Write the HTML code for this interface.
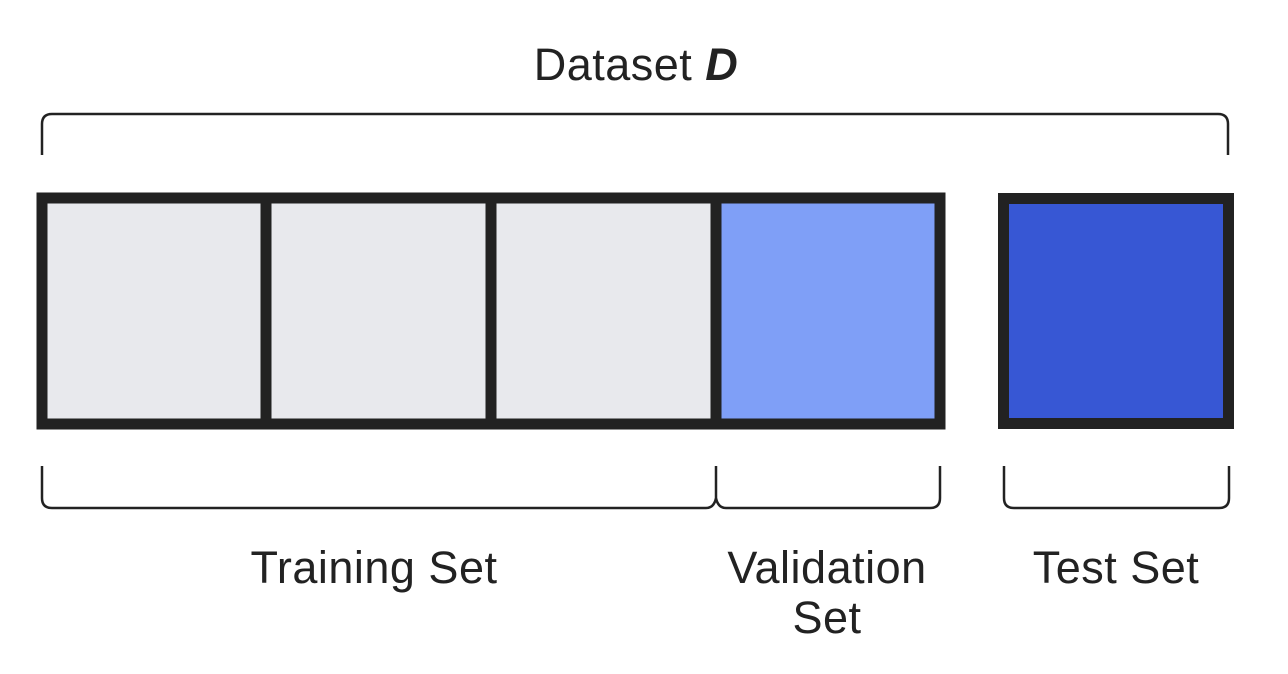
<!DOCTYPE html>
<html><head><meta charset="utf-8"><style>
html,body{margin:0;padding:0;background:#fff;}
svg{display:block;}
text{font-family:"Liberation Sans",sans-serif;fill:#222;font-size:45px;letter-spacing:0.5px;}
</style></head><body>
<svg width="1288" height="674" viewBox="0 0 1288 674">
<text x="636" y="80" text-anchor="middle">Dataset <tspan font-weight="bold" font-style="italic">D</tspan></text>
<path d="M42 155 V124 Q42 114 52 114 H1218 Q1228 114 1228 124 V155" fill="none" stroke="#222" stroke-width="2.5"/>
<rect x="42" y="198" width="220" height="226" fill="#e8e9ed"/>
<rect x="267" y="198" width="220" height="226" fill="#e8e9ed"/>
<rect x="492" y="198" width="220" height="226" fill="#e8e9ed"/>
<rect x="716" y="198" width="224" height="226" fill="#7f9ff7"/>
<rect x="42" y="198" width="898" height="226" fill="none" stroke="#222" stroke-width="11"/>
<line x1="266" y1="198" x2="266" y2="424" stroke="#222" stroke-width="11"/>
<line x1="491" y1="198" x2="491" y2="424" stroke="#222" stroke-width="11"/>
<line x1="716" y1="198" x2="716" y2="424" stroke="#222" stroke-width="11"/>
<rect x="1003.5" y="198.5" width="225" height="225" fill="#3757d4" stroke="#222" stroke-width="11"/>
<path d="M42 466 V498 Q42 508 52 508 H706 Q714 508 716 498 Q718 508 726 508 H930 Q940 508 940 498 V466 M716 466 V498" fill="none" stroke="#222" stroke-width="2.5"/>
<path d="M1004 466 V498 Q1004 508 1014 508 H1219 Q1229 508 1229 498 V466" fill="none" stroke="#222" stroke-width="2.5"/>
<text x="374" y="583" text-anchor="middle">Training Set</text>
<text x="827" y="583" text-anchor="middle">Validation</text>
<text x="827" y="633" text-anchor="middle">Set</text>
<text x="1116" y="583" text-anchor="middle">Test Set</text>
</svg>
</body></html>
